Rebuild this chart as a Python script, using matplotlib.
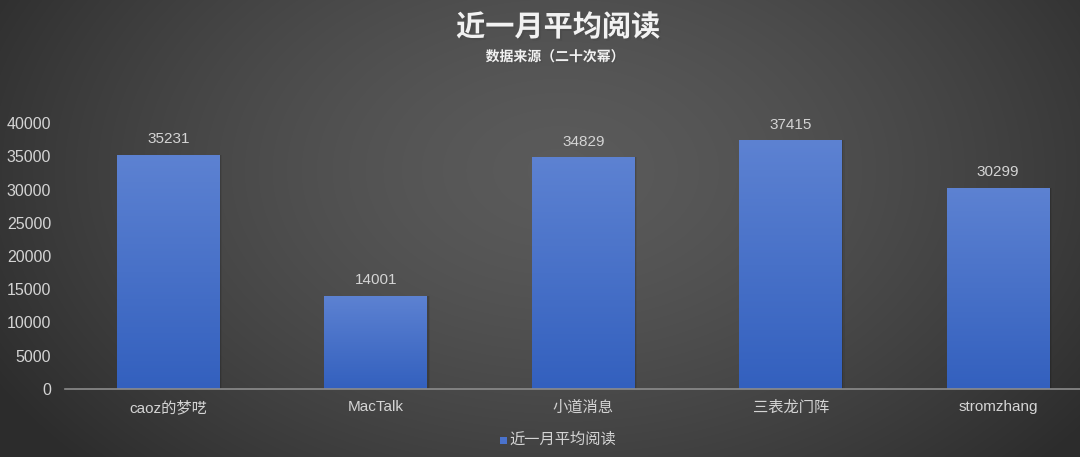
import numpy as np
import matplotlib.pyplot as plt
from matplotlib.patches import Rectangle
import matplotlib.patheffects as pe

plt.rcParams['font.family'] = ['Liberation Sans', 'Noto Sans CJK SC', 'DejaVu Sans']

# données
categories = ['caoz的梦呓', 'MacTalk', '小道消息', '三表龙门阵', 'stromzhang']
values = [35231, 14001, 34829, 37415, 30299]
yticks = [0, 5000, 10000, 15000, 20000, 25000, 30000, 35000, 40000]

W, H = 1080, 457
fig = plt.figure(figsize=(W / 100, H / 100), dpi=100)

# fond en dégradé radial
bg = fig.add_axes([0, 0, 1, 1])
yy, xx = np.mgrid[0:H, 0:W]
r = np.sqrt(((xx - 560) / 650) ** 2 + ((yy - 170) / 430) ** 2)
r = np.clip(r, 0, 1)
shade = 0.355 - 0.18 * r ** 1.5
bg.imshow(np.dstack([shade] * 3), aspect='auto', extent=[0, 1, 0, 1])
bg.set_axis_off()

# axe principal
left, right = 65 / W, 1.0
bottom, top = (H - 389) / H, (H - 123) / H
ax = fig.add_axes([left, bottom, right - left, top - bottom])
ax.patch.set_alpha(0)
spacing = 207.4

grad = np.linspace(0, 1, 256).reshape(-1, 1)
top_col = np.array([0x5d, 0x82, 0xd2]) / 255
bot_col = np.array([0x33, 0x60, 0xbe]) / 255
bar_img = bot_col * (1 - grad[..., None]) + top_col * grad[..., None]

bw = 103 / spacing
x = np.arange(len(categories))
for xi, v in zip(x, values):
    # ombre légère
    for k, a in [(0.006, 0.12), (0.012, 0.06)]:
        ax.add_patch(Rectangle((xi - bw / 2 + k, 0), bw, v, color='black', alpha=a,
                               linewidth=0, zorder=1))
    im = ax.imshow(bar_img, origin='lower', aspect='auto',
                   extent=[xi - bw / 2, xi + bw / 2, 0, v], zorder=2)
    rect = Rectangle((xi - bw / 2, 0), bw, v, facecolor='none', edgecolor='none')
    ax.add_patch(rect)
    im.set_clip_path(rect)
    ax.text(xi, v + 1300, str(v), ha='center', va='bottom', color='#d4d4d4', fontsize=11)

ax.set_xlim(-(168.5 - 65) / spacing, (W - 168.5) / spacing)
ax.set_ylim(0, 40000)
ax.set_yticks(yticks)
ax.set_yticklabels([str(t) for t in yticks], color='#d4d4d4', fontsize=11.5)
ax.set_xticks(x)
ax.set_xticklabels(categories, color='#d4d4d4', fontsize=11)
ax.tick_params(axis='both', length=0, pad=8)
ax.tick_params(axis='y', pad=10)
for s in ['top', 'right', 'left']:
    ax.spines[s].set_visible(False)
ax.spines['bottom'].set_color('#8c8c8c')
ax.spines['bottom'].set_linewidth(1.2)

# titres
fig.text(558 / W, (H - 28) / H, '近一月平均阅读', ha='center', va='center', color='#f2f2f2',
         fontsize=21, fontweight='bold',
         path_effects=[pe.withSimplePatchShadow(offset=(1.5, -1.5), alpha=0.5)])
fig.text(555 / W, (H - 57) / H, '数据来源（二十次幂）', ha='center', va='center', color='#f2f2f2',
         fontsize=10, fontweight='bold',
         path_effects=[pe.withSimplePatchShadow(offset=(1, -1), alpha=0.5)])

# légende
fig.patches.append(Rectangle((500 / W, (H - 444) / H), 7 / W, 7 / H,
                             transform=fig.transFigure, facecolor='#4a72cc', figure=fig))
fig.text(509 / W, (H - 440) / H, '近一月平均阅读', ha='left', va='center', color='#d4d4d4', fontsize=11)

fig.savefig('out.png', dpi=100)
